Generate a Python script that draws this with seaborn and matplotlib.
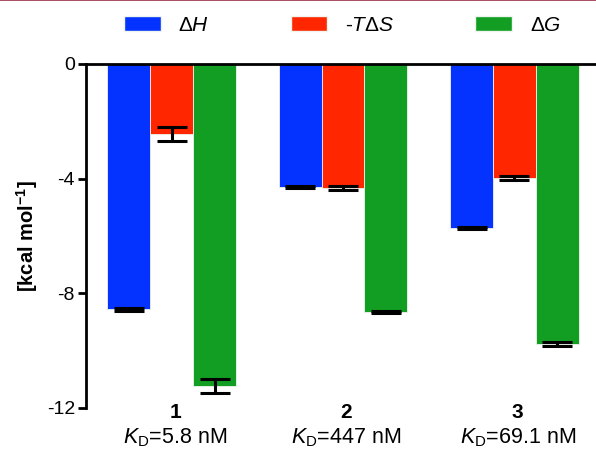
import numpy as np
import pandas as pd
import seaborn as sns
import matplotlib.pyplot as plt
from matplotlib.lines import Line2D
from matplotlib.patches import Patch

# Data
compounds = ["1", "2", "3"]
kd_labels = ["5.8 nM", "447 nM", "69.1 nM"]
terms = [r"$\Delta H$", r"-$T\Delta S$", r"$\Delta G$"]
dH = [-8.56, -4.30, -5.72]
dH_err = [0.05, 0.03, 0.03]
TdS = [-2.44, -4.32, -3.98]
TdS_err = [0.25, 0.06, 0.08]
dG = [-11.23, -8.66, -9.76]
dG_err = [0.24, 0.04, 0.07]
colors = ["#0433ff", "#ff2600", "#119e22"]

sns.set_style("white")
plt.rcParams['font.family'] = ['Liberation Sans', 'DejaVu Sans']
plt.rcParams['mathtext.fontset'] = 'custom'
plt.rcParams['mathtext.rm'] = 'Liberation Sans'
plt.rcParams['mathtext.it'] = 'Liberation Sans:italic'
plt.rcParams['mathtext.bf'] = 'Liberation Sans:bold'
for key in ['text.color', 'axes.labelcolor', 'xtick.color', 'ytick.color']:
    plt.rcParams[key] = 'black'

df = pd.DataFrame({
    "compound": compounds * 3,
    "term": np.repeat(terms, 3),
    "value": dH + TdS + dG,
    "err": dH_err + TdS_err + dG_err,
})

fig = plt.figure(figsize=(5.96, 4.49), dpi=100)
ax = fig.add_axes([86 / 596, 1 - 408 / 449, (600 - 86) / 596, 344 / 449])

sns.barplot(data=df, x="compound", y="value", hue="term", hue_order=terms,
            palette=colors, saturation=1, width=0.75, errorbar=None, ax=ax,
            edgecolor="#eef4ee", linewidth=0.6, legend=False)

# Error bars on each bar
for cont, term in zip(ax.containers, terms):
    sub = df[df["term"] == term]
    xs = [p.get_x() + p.get_width() / 2 for p in cont.patches]
    ax.errorbar(xs, sub["value"].values, yerr=sub["err"].values, fmt="none",
                ecolor="black", elinewidth=2.2, capsize=11, capthick=2.2, zorder=5)

ax.set_ylim(-12, 0)
ax.set_xlim(-0.5, 2.5)
ax.set_yticks([0, -4, -8, -12])
ax.set_yticklabels(["0", "-4", "-8", "-12"], fontsize=14)
ax.tick_params(axis="y", direction="out", length=6, width=2, left=True, pad=2)
ax.tick_params(axis="x", bottom=False, labelbottom=False)
ax.set_xlabel("")
ax.set_ylabel(r"[kcal mol$^{\mathbf{-1}}$]", fontsize=14.5, fontweight="bold", labelpad=5)

for s in ["bottom", "right"]:
    ax.spines[s].set_visible(False)
for s in ["left", "top"]:
    ax.spines[s].set_linewidth(2)
    ax.spines[s].set_color("black")

# Category labels below the plot
trans = ax.get_xaxis_transform()
for i, (c, kd) in enumerate(zip(compounds, kd_labels)):
    ax.text(i + 0.02, -0.012, c, transform=trans, ha="center", va="center",
            fontsize=15, fontweight="bold")
    ax.text(i + 0.02, -0.085, r"$K_\mathrm{D}$=" + kd, transform=trans, ha="center",
            va="center", fontsize=15.5)

handles = [Patch(facecolor=c, edgecolor="#eef4ee", label=t) for c, t in zip(colors, terms)]
fig.legend(handles=handles, loc="center", bbox_to_anchor=(342.5 / 596, 1 - 25.5 / 449),
           ncol=3, frameon=False, fontsize=15, handlelength=1.75, handleheight=0.75,
           handletextpad=0.85, columnspacing=3.9, borderpad=0, borderaxespad=0)

fig.add_artist(Line2D([0, 1], [0.999, 0.999], color="#9b2c45", linewidth=1.2,
                      transform=fig.transFigure))

fig.savefig("out.png", dpi=100)
